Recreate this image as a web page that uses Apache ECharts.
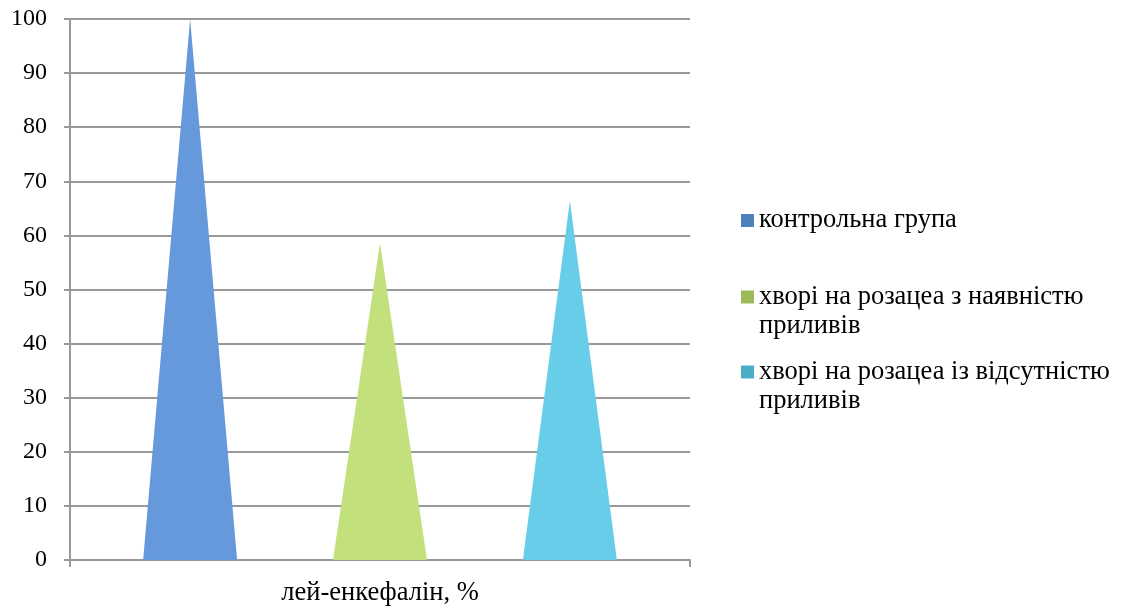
<!DOCTYPE html>
<html>
<head>
<meta charset="utf-8">
<script src="https://cdn.jsdelivr.net/npm/echarts@6/dist/echarts.min.js"></script>
<style>
  html, body { margin: 0; padding: 0; background: #fff; }
  #chart { width: 1122px; height: 610px; }
</style>
</head>
<body>
<div id="chart"></div>
<script>
// Category along the x axis
const categories = ['лей-енкефалін, %'];
// Group names shown in the legend
const seriesNames = [
  'контрольна група',
  'хворі на розацеа з наявністю\nприливів',
  'хворі на розацеа із відсутністю\nприливів'
];
// Level per group, %
const controlValues = [100];
const flushingValues = [58.6];
const noFlushingValues = [66.4];
// Y axis scale
const yMin = 0, yMax = 100, yStep = 10;

const fillColors = ['#6699db', '#c2e07b', '#67cde8'];
const legendColors = ['#4f81bd', '#9bbb59', '#4bacc6'];
const serif = '"Liberation Serif", "Times New Roman", serif';
const values = [controlValues, flushingValues, noFlushingValues];

const chart = echarts.init(document.getElementById('chart'), null, { renderer: 'canvas' });

const series = seriesNames.map((name, i) => ({
  name: name,
  type: 'pictorialBar',
  symbol: 'triangle',
  symbolSize: ['100%', '100%'],
  barWidth: 94,
  barGap: '102%',
  itemStyle: { color: fillColors[i] },
  data: values[i]
}));

// one legend block per group; two-line names get an empty leading line so
// the marker stays level with the first printed line
const legendTops = [206, 253.5, 328.5];
const legends = seriesNames.map((name, i) => ({
  show: true,
  orient: 'vertical',
  left: 741,
  top: legendTops[i],
  padding: 0,
  itemWidth: 13,
  itemHeight: 13,
  icon: 'rect',
  selectedMode: false,
  formatter: n => (n.indexOf('\n') >= 0 ? '\n' + n : n),
  textStyle: {
    fontFamily: serif,
    fontSize: 26.5,
    color: '#000',
    lineHeight: 29
  },
  data: [{ name: name, itemStyle: { color: legendColors[i] } }]
}));

chart.setOption({
  animation: false,
  backgroundColor: '#fff',
  grid: { left: 70, right: 432, top: 19, bottom: 50, containLabel: false },
  legend: legends,
  xAxis: {
    type: 'category',
    data: categories,
    boundaryGap: true,
    axisLine: { show: true, lineStyle: { color: '#999', width: 2 } },
    axisTick: { show: true, length: 7, lineStyle: { color: '#999', width: 2 } },
    axisLabel: { fontFamily: serif, fontSize: 26.5, color: '#000', margin: 20 },
    splitLine: { show: false }
  },
  yAxis: {
    type: 'value',
    min: yMin,
    max: yMax,
    interval: yStep,
    axisLine: { show: true, lineStyle: { color: '#999', width: 2 } },
    axisTick: { show: true, length: 6, lineStyle: { color: '#999', width: 2 } },
    axisLabel: { fontFamily: serif, fontSize: 24, color: '#000', margin: 23, padding: [4, 0, 0, 0] },
    splitLine: { show: true, lineStyle: { color: '#999', width: 2 } }
  },
  series: series
});
</script>
</body>
</html>
